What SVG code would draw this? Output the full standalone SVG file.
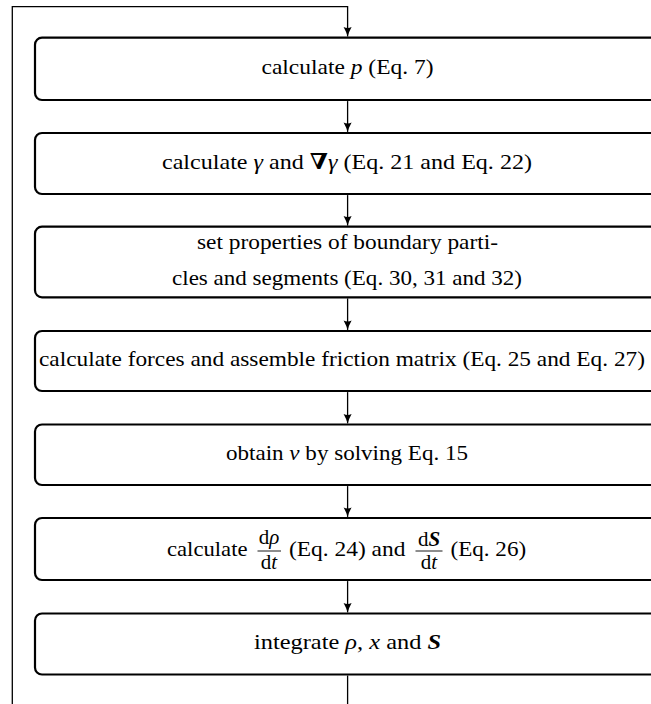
<svg xmlns="http://www.w3.org/2000/svg" width="651" height="704" viewBox="0 0 651 704">
<defs>
<style>
.box{fill:#fff;stroke:#000;stroke-width:2.2}
.con{fill:none;stroke:#000;stroke-width:1.3}
.t{font-family:"Liberation Serif","DejaVu Serif",serif;font-size:22px;fill:#000}
.f{font-size:21px}
.m{font-style:italic}
.bf{font-weight:bold}
.bi{font-weight:bold;font-style:italic}
.bar{stroke:#000;stroke-width:0.9}
</style>
<marker id="ah" viewBox="-10 -5 11 10" refX="0" refY="0" markerWidth="11" markerHeight="10" markerUnits="userSpaceOnUse" orient="auto">
<path d="M-9.5,-4 Q-4,-1 0,0 Q-4,1 -9.5,4 Q-7.5,0 -9.5,-4 Z" fill="#000"/>
</marker>
</defs>
<g id="connectors">
<path class="con" d="M347.6,675.6 V712 H12.3 V6.7 H347.6 V36.6" marker-end="url(#ah)"/>
<path class="con" d="M347.6,101.1 V131.9" marker-end="url(#ah)"/>
<path class="con" d="M347.6,195.1 V225.6" marker-end="url(#ah)"/>
<path class="con" d="M347.6,298.4 V329.9" marker-end="url(#ah)"/>
<path class="con" d="M347.6,392.1 V423.4" marker-end="url(#ah)"/>
<path class="con" d="M347.6,486.1 V516.9" marker-end="url(#ah)"/>
<path class="con" d="M347.6,581.1 V612.4" marker-end="url(#ah)"/>
</g>
<g id="n1">
<rect class="box" x="35" y="37.7" width="625" height="62.3" rx="7"/>
<text class="t" x="347.5" y="74.1" text-anchor="middle" textLength="172" lengthAdjust="spacingAndGlyphs">calculate <tspan class="m">p</tspan> (Eq. 7)</text>
</g>
<g id="n2">
<rect class="box" x="35" y="133" width="625" height="61" rx="7"/>
<text class="t" x="347" y="168.8" text-anchor="middle" textLength="370" lengthAdjust="spacingAndGlyphs">calculate <tspan class="m">γ</tspan> and <tspan class="bf">∇</tspan><tspan class="m">γ</tspan> (Eq. 21 and Eq. 22)</text>
</g>
<g id="n3">
<rect class="box" x="35" y="226.7" width="625" height="70.6" rx="7"/>
<text class="t" x="347.5" y="249.4" text-anchor="middle" textLength="301" lengthAdjust="spacingAndGlyphs">set properties of boundary parti-</text>
<text class="t" x="347" y="285.4" text-anchor="middle" textLength="350" lengthAdjust="spacingAndGlyphs">cles and segments (Eq. 30, 31 and 32)</text>
</g>
<g id="n4">
<rect class="box" x="35" y="331" width="625" height="60" rx="7"/>
<text class="t" x="39" y="366.3" textLength="606" lengthAdjust="spacingAndGlyphs">calculate forces and assemble friction matrix (Eq. 25 and Eq. 27)</text>
</g>
<g id="n5">
<rect class="box" x="35" y="424.5" width="625" height="60.5" rx="7"/>
<text class="t" x="347" y="460" text-anchor="middle" textLength="242" lengthAdjust="spacingAndGlyphs">obtain <tspan class="m">v</tspan> by solving Eq. 15</text>
</g>
<g id="n6">
<rect class="box" x="35" y="518" width="625" height="62" rx="7"/>
<text class="t" x="167" y="556.3" textLength="80.5" lengthAdjust="spacingAndGlyphs">calculate</text>
<text class="t f" x="269" y="543.8" text-anchor="middle">d<tspan class="m">ρ</tspan></text>
<line class="bar" x1="257.5" y1="551" x2="281" y2="551"/>
<text class="t f" x="269" y="569.4" text-anchor="middle">d<tspan class="m">t</tspan></text>
<text class="t" x="289" y="556.3" textLength="116.4" lengthAdjust="spacingAndGlyphs">(Eq. 24) and</text>
<text class="t f" x="429" y="545.5" text-anchor="middle">d<tspan class="bi">S</tspan></text>
<line class="bar" x1="415.5" y1="551" x2="442.5" y2="551"/>
<text class="t f" x="429" y="569.4" text-anchor="middle">d<tspan class="m">t</tspan></text>
<text class="t" x="450.5" y="556.3" textLength="75.6" lengthAdjust="spacingAndGlyphs">(Eq. 26)</text>
</g>
<g id="n7">
<rect class="box" x="35" y="613.5" width="625" height="61" rx="7"/>
<text class="t" x="347.5" y="649.3" text-anchor="middle" textLength="187" lengthAdjust="spacingAndGlyphs">integrate <tspan class="m">ρ</tspan>, <tspan class="m">x</tspan> and <tspan class="bi">S</tspan></text>
</g>
</svg>
